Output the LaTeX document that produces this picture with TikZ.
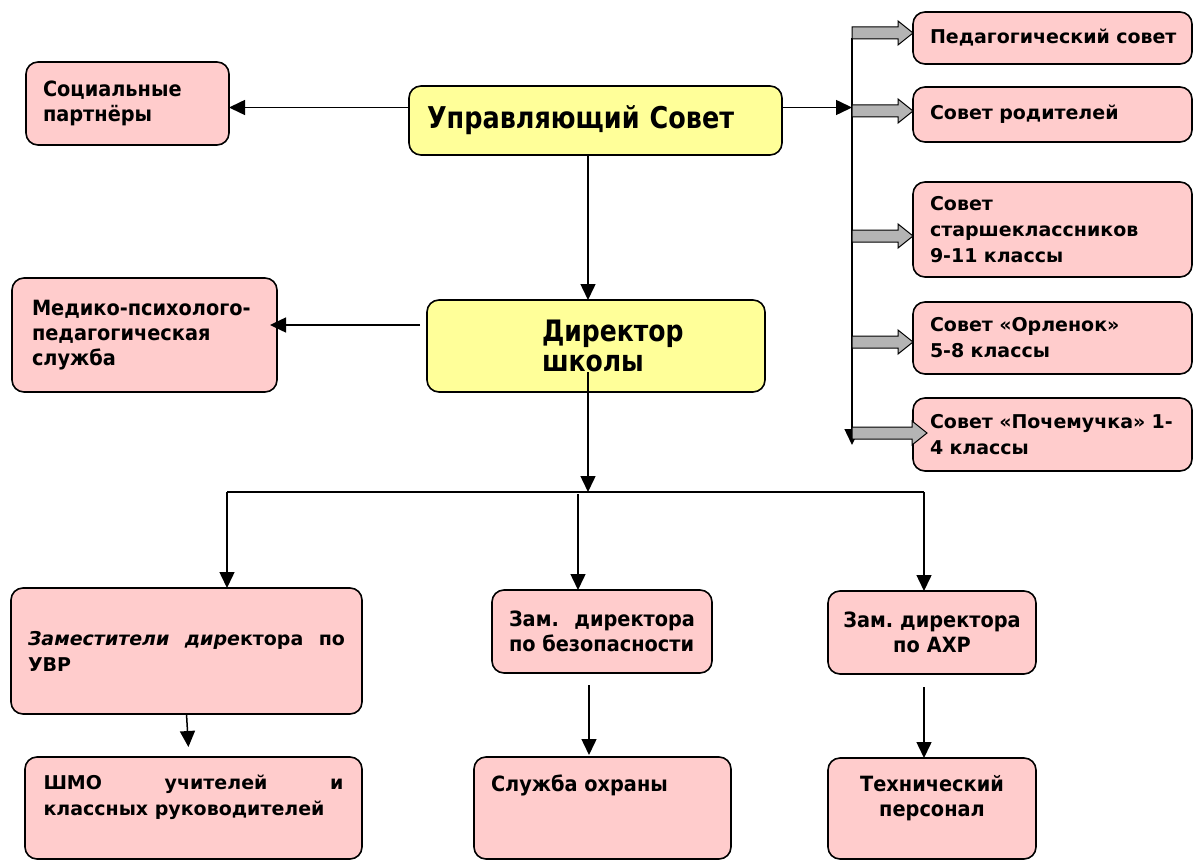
\documentclass[tikz,border=0pt]{standalone}
\usepackage{fontspec}
\setmainfont{DejaVu Sans}
\newfontfamily\headfont{DejaVu Sans}[FakeStretch=0.85]
\newfontfamily\narrowfont{DejaVu Sans}[FakeStretch=0.92]
\usetikzlibrary{arrows.meta,calc,positioning}
\definecolor{boxpink}{HTML}{FFCCCC}
\definecolor{boxyellow}{HTML}{FFFF99}
\definecolor{feedgray}{HTML}{B4B4B4}
\frenchspacing

\begin{document}
\begin{tikzpicture}[x=1pt,y=-1pt,
	unit/.style={draw,line width=1.6pt,rounded corners=12pt,fill=boxpink,inner sep=0pt,outer sep=0pt},
	head/.style={unit,fill=boxyellow},
	wide/.style={font=\bfseries\fontsize{19}{26}\selectfont},
	narrow/.style={font=\narrowfont\bfseries\fontsize{21}{25}\selectfont},
	council/.style={unit,wide,minimum width=279pt,text width=245pt,align=left},
	link/.style={line width=1.5pt,-{Triangle[length=16pt,width=15pt]}},
	feedlen/.store in=\feedlen, feedlen=61,
	feed/.pic={\draw[line width=1pt,fill=feedgray] (-\feedlen,-6) -- (-15,-6) -- (-15,-12) -- (0,0) -- (-15,12) -- (-15,6) -- (-\feedlen,6) -- cycle;}]
\useasboundingbox (0,0) rectangle (1193,861);
% top level
\node[unit,narrow,minimum width=203pt,minimum height=83pt,text width=169pt,align=left] (soc) at (127.5,103.5) {Социальные\\партнёры};
\node[head,font=\headfont\bfseries\fontsize{30}{32}\selectfont,minimum width=373pt,minimum height=69pt,text width=337pt,align=left] (us) at (595.5,120.5) {Управляющий Совет};
\node[unit,narrow,minimum width=265pt,minimum height=114pt,text width=225pt,align=left] (mpp) at (144.5,335) {\mbox{Медико-психолого-}\\педагогическая\\служба};
\node[head,font=\headfont\bfseries\fontsize{29.5}{30}\selectfont,minimum width=338pt,minimum height=92pt,text width=108pt,align=left] (dir) at (596,346) {Директор\\школы};
% councils
\node[council,minimum height=52pt] (ped) at (1052.5,38) {\mbox{Педагогический совет}};
\node[council,minimum height=55pt] (rod) at (1052.5,114.5) {Совет родителей};
\node[council,minimum height=95pt] (star) at (1052.5,229.5) {Совет\\старшеклассников\\9-11 классы};
\node[council,minimum height=72pt] (orl) at (1052.5,338) {Совет «Орленок»\\5-8 классы};
\node[council,minimum height=73pt] (poch) at (1052.5,434.5) {\mbox{Совет «Почемучка» 1-}\\4 классы};
% deputies
\node[unit,wide,minimum width=351pt,minimum height=126pt,text width=317pt,align=justify] (uvr) at (186.5,651) {\textit{Заместители дире}ктора по\linebreak УВР};
\node[unit,narrow,minimum width=220pt,minimum height=83pt,text width=186pt,align=justify] (bez) at (602,631.5) {Зам. директора\linebreak по безопасности};
\node[unit,narrow,minimum width=208pt,minimum height=83pt,text width=186pt,align=center] (axr) at (932,632.5) {Зам. директора\\по АХР};
\node[unit,wide,minimum width=337pt,minimum height=102pt] (shmo) at (193.5,808) {\parbox[c][66pt][t]{300pt}{ШМО учителей и\linebreak классных руководителей}};
\node[unit,narrow,minimum width=257pt,minimum height=102pt] (ohr) at (602.5,808) {\parbox[c][66pt][t]{223pt}{Служба охраны}};
\node[unit,narrow,minimum width=208pt,minimum height=101pt] (tech) at (932,808.5) {\parbox[c][66pt][t]{186pt}{\centering Технический\\персонал}};
% bus and fork
\coordinate (bustop) at (852,38);
\coordinate (busbot) at (852,445);
\coordinate (forkL) at (227,492);
\coordinate (forkM) at (578,494);
\coordinate (forkR) at (924,492);
\draw[link] ([yshift=13pt]us.west) -- ([yshift=13pt]us.west -| soc.east);
\draw[link] ([yshift=13pt]us.east) -- ([yshift=13pt]us.east -| bustop);
\draw[link] (bustop) -- (busbot);
\draw[link] ([xshift=-7.5pt]us.south) -- ([xshift=-7.5pt]us.south |- dir.north);
\draw[link] ([xshift=-7pt,yshift=21pt]dir.west) -- ([xshift=-7pt,yshift=21pt]dir.west -| mpp.east);
\draw[link] ([xshift=-8pt,yshift=20pt]dir.south) -- ([xshift=-8pt]dir.south |- forkR);
\draw[line width=1.5pt] (forkL) -- (forkR);
\draw[link] (forkL) -- (forkL |- uvr.north);
\draw[link] (forkM) -- (forkM |- bez.north);
\draw[link] (forkR) -- (forkR |- axr.north);
\draw[link,shorten >=10pt] (uvr.south) -- ([xshift=-4.5pt]shmo.north);
\draw[link,shorten <=12pt,shorten >=2pt] ([xshift=-13pt]bez.south) -- ([xshift=-13pt]bez.south |- ohr.north);
\draw[link,shorten <=13pt] ([xshift=-8pt]axr.south) -- ([xshift=-8pt]axr.south |- tech.north);
% feeds into the councils
\pic at ([yshift=5pt]ped.west) {feed};
\pic at ([yshift=3.5pt]rod.west) {feed};
\pic at ([yshift=-6.5pt]star.west) {feed};
\pic at ([yshift=-4pt]orl.west) {feed};
\pic[feedlen=75] at ([xshift=14pt,yshift=1.5pt]poch.west) {feed};
\end{tikzpicture}
\end{document}
